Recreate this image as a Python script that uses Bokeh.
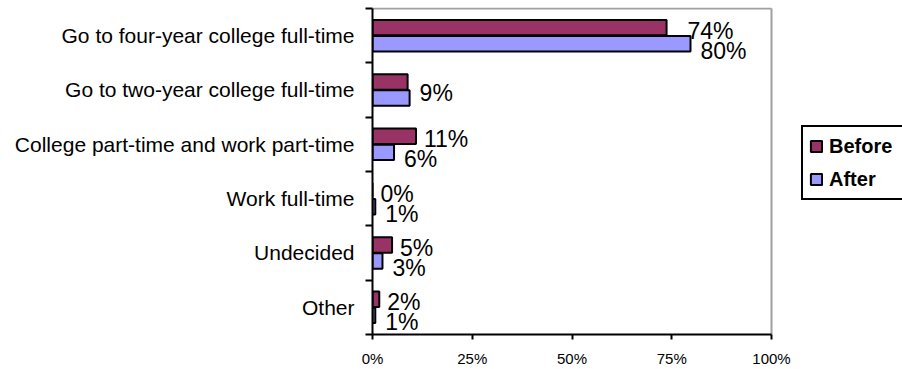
from bokeh.plotting import figure
from bokeh.models import (ColumnDataSource, FixedTicker, NumeralTickFormatter,
                          Legend, LegendItem, Range1d)
from bokeh.core.properties import value
from bokeh.embed import file_html
from bokeh.resources import INLINE

categories = ["Go to four-year college full-time", "Go to two-year college full-time",
              "College part-time and work part-time", "Work full-time", "Undecided", "Other"]
before = [0.737, 0.088, 0.109, 0.0, 0.049, 0.017]
after = [0.797, 0.093, 0.054, 0.007, 0.025, 0.007]
before_labels = ["74%", "", "11%", "0%", "5%", "2%"]
after_labels = ["80%", "9%", "6%", "1%", "3%", "1%"]
series_names = ["Before", "After"]
x_ticks = [0, 0.25, 0.5, 0.75, 1.0]

FONT = "Liberation Sans"
BEFORE_COLOR = "#993366"
AFTER_COLOR = "#9999FF"
FRAME_GREY = "#a0a0a0"

n = len(categories)
ys = [n - 1 - i for i in range(n)]
dy = 0.148
bh = 0.284

# plot area: 0..1 spans 399 px; the frame continues to the canvas edge so the legend fits
W, H = 902, 369
LEFT, TOP, BOTTOM = 372, 7, 34
AREA_W = 399
frame_w = W - LEFT
frame_h = H - TOP - BOTTOM
unit_h = (frame_h - 1) / n
x_end = frame_w / AREA_W
y_end = n - 0.5 + 1 / unit_h
px = 1 / AREA_W  # one pixel in data units along x

src_b = ColumnDataSource(dict(y=[v + dy for v in ys], x=before))
src_a = ColumnDataSource(dict(y=[v - dy for v in ys], x=after))

# "Before" labels sit just past their bar, but are pushed right if the longer
# "After" bar below would run under them
lb_x = [max(b + 8 * px, a - 3 * px) for b, a in zip(before, after)]
src_lb = ColumnDataSource(dict(y=[v + dy for v in ys], x=lb_x, t=before_labels))
la_y, la_off = [], []
for v, bl in zip(ys, before_labels):
    if bl == "":
        la_y.append(v)
        la_off.append(3)
    else:
        la_y.append(v - dy)
        la_off.append(7)
src_la = ColumnDataSource(dict(y=la_y, x=after, t=after_labels, off=la_off))

p = figure(width=W, height=H, output_backend="svg", toolbar_location=None,
           x_range=Range1d(0, x_end), y_range=Range1d(-0.5, y_end),
           min_border_left=LEFT, min_border_right=0, min_border_top=TOP,
           min_border_bottom=BOTTOM)
p.grid.visible = False
p.background_fill_color = "white"
p.border_fill_color = "white"
p.outline_line_color = None

# grey top and right border of the plot area
p.segment(x0=[0, 1], y0=[n - 0.5, -0.5], x1=[1, 1], y1=[n - 0.5, n - 0.5],
          line_color=FRAME_GREY, line_width=2)

rb = p.hbar(y="y", right="x", left=0, height=bh, source=src_b,
            fill_color=BEFORE_COLOR, line_color="black", line_width=2)
ra = p.hbar(y="y", right="x", left=0, height=bh, source=src_a,
            fill_color=AFTER_COLOR, line_color="black", line_width=2)

p.text(x="x", y="y", text="t", source=src_lb, x_offset=0, y_offset=3,
       text_baseline="middle", text_align="left", text_font=value(FONT),
       text_font_size="23px", text_color="black")
p.text(x="x", y="y", text="t", source=src_la, x_offset=10, y_offset="off",
       text_baseline="middle", text_align="left", text_font=value(FONT),
       text_font_size="23px", text_color="black")

xa = p.xaxis[0]
xa.ticker = FixedTicker(ticks=x_ticks)
xa.formatter = NumeralTickFormatter(format="0%")
xa.bounds = (0, 1)
xa.axis_line_color = "black"
xa.axis_line_width = 2
xa.major_tick_line_color = "black"
xa.major_tick_line_width = 2
xa.major_tick_out = 5
xa.major_tick_in = 0
xa.minor_tick_line_color = None
xa.major_label_text_font = FONT
xa.major_label_text_font_size = "15px"
xa.major_label_text_color = "black"
xa.major_label_standoff = 10

ya = p.yaxis[0]
ya.ticker = FixedTicker(ticks=ys, minor_ticks=[i - 0.5 for i in range(n + 1)])
ya.major_label_overrides = {y: c for y, c in zip(ys, categories)}
ya.bounds = (-0.5, n - 0.5)
ya.axis_line_color = "black"
ya.axis_line_width = 2
ya.major_tick_line_color = None
ya.major_tick_out = 0
ya.major_tick_in = 0
ya.minor_tick_line_color = "black"
ya.minor_tick_line_width = 2
ya.minor_tick_out = 7
ya.minor_tick_in = 0
ya.major_label_text_font = FONT
ya.major_label_text_font_size = "21px"
ya.major_label_text_color = "black"
ya.major_label_standoff = 11

legend = Legend(items=[LegendItem(label=series_names[0], renderers=[rb]),
                       LegendItem(label=series_names[1], renderers=[ra])],
                location=(429, 134), orientation="vertical")
legend.label_text_font = FONT
legend.label_text_font_style = "bold"
legend.label_text_font_size = "20px"
legend.label_text_color = "black"
legend.glyph_width = 14
legend.glyph_height = 14
legend.label_height = 26
legend.label_width = 90
legend.label_standoff = 6
legend.spacing = 7
legend.padding = 6
legend.margin = 0
legend.border_line_color = "black"
legend.border_line_alpha = 1
legend.border_line_width = 2
legend.background_fill_color = "white"
legend.background_fill_alpha = 1
p.add_layout(legend, "center")

open("out.html", "w").write(file_html(p, INLINE))
